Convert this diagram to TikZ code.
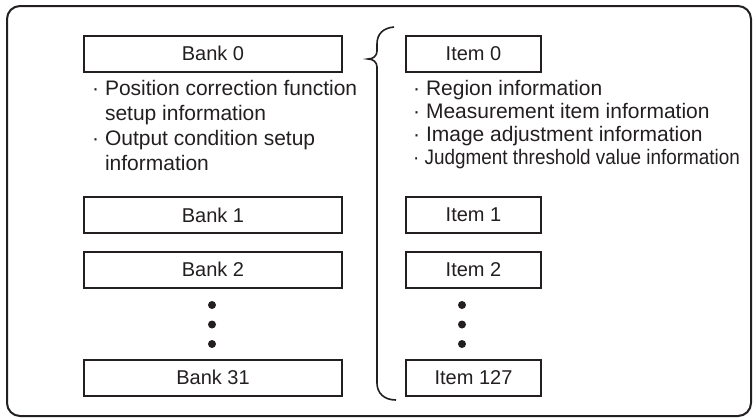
\documentclass[tikz,border=0pt]{standalone}
\usepackage{fontspec}
\setmainfont{Liberation Sans}
\definecolor{ink}{HTML}{231F20}
\tikzset{
  box/.style={draw=ink, line width=2pt, minimum height=36pt, inner sep=0pt, text=ink,
              font=\fontsize{20}{24}\selectfont},
  bankbox/.style={box, minimum width=258pt},
  itembox/.style={box, minimum width=135pt},
  info/.style={anchor=base west, inner sep=0pt, text=ink, font=\fontsize{21}{25}\selectfont},
  vdot/.style={circle, fill=ink, inner sep=0pt, minimum size=8pt},
}
\begin{document}
\begin{tikzpicture}[x=1pt, y=-1pt]
\useasboundingbox (0,0) rectangle (754,418);
% outer frame
\draw[ink, line width=2pt, rounded corners=13pt] (7,6) rectangle (751,416);
% banks
\node[bankbox] (b0)  at (213,53.5)  {Bank 0};
\node[bankbox] (b1)  at (213,215)   {Bank 1};
\node[bankbox] (b2)  at (213,269.5) {Bank 2};
\node[bankbox] (b31) at (213,377.5) {Bank 31};
\node[info] (l1) at (92,95)  {·\ Position correction function};
\node[info] (l2) at (92,120) {\phantom{·\ }setup information};
\node[info] (l3) at (92,145) {·\ Output condition setup};
\node[info] (l4) at (92,170) {\phantom{·\ }information};
\node[vdot] (bd1) at (212,305) {};
\node[vdot] (bd2) at (212,324.5) {};
\node[vdot] (bd3) at (212,344) {};
% items
\node[itembox] (i0)   at (473.5,53.5)  {Item 0};
\node[itembox] (i1)   at (473.5,215)   {Item 1};
\node[itembox] (i2)   at (473.5,269.5) {Item 2};
\node[itembox] (i127) at (473.5,377.5) {Item 127};
\node[info] (r1) at (413,95)    {·\ Region information};
\node[info] (r2) at (413,118.5) {·\ Measurement item information};
\node[info] (r3) at (413,141.5) {·\ Image adjustment information};
\node[info] (r4) at (413,164.5) {\scalebox{0.9}[1]{·\ Judgment threshold value information}};
\node[vdot] (id1) at (462,305) {};
\node[vdot] (id2) at (462,324.5) {};
\node[vdot] (id3) at (462,344) {};
% brace
\draw[ink, line width=1.6pt]
  (394,27) .. controls (383,28) and (377,34) .. (377,44) -- (377,51)
  .. controls (377,56) and (373,59) .. (368,59)
  .. controls (373,59) and (377,62) .. (377,67) -- (377,383)
  .. controls (377,393) and (384,400) .. (396,400);
\end{tikzpicture}
\end{document}
